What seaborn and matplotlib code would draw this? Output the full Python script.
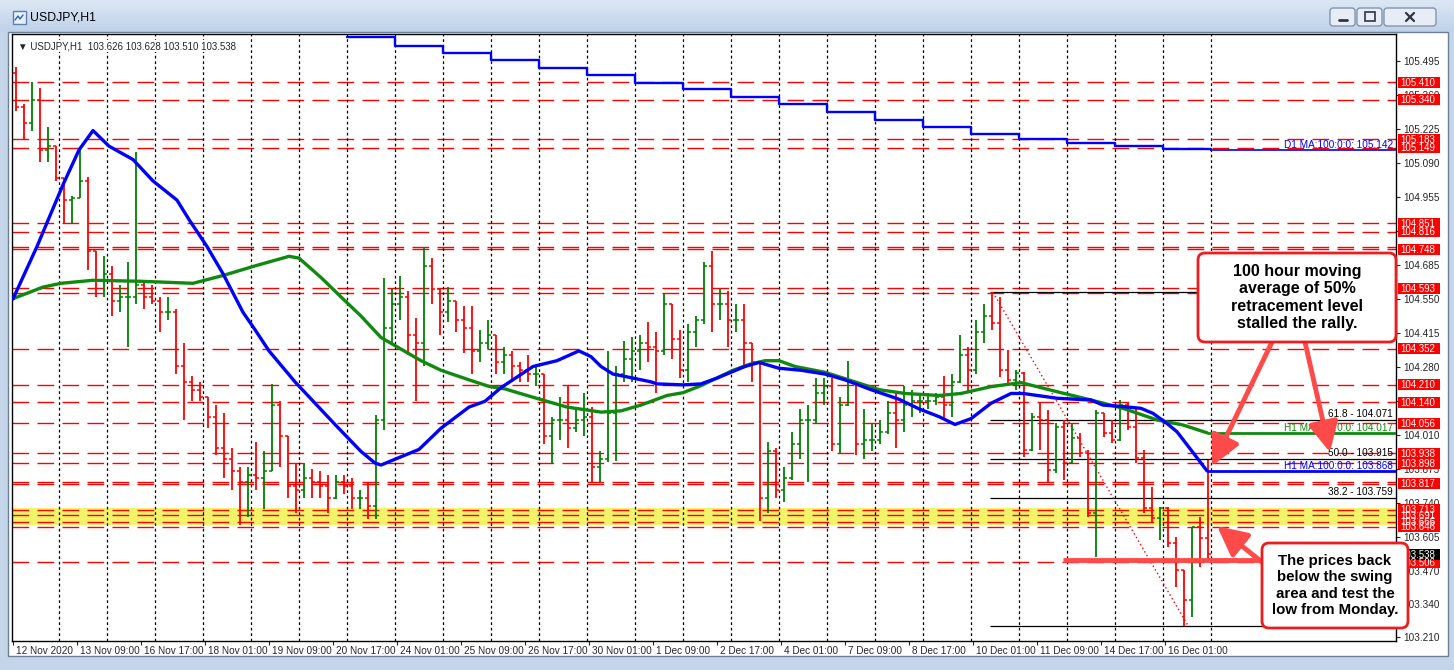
import matplotlib
matplotlib.use("Agg")
import matplotlib.pyplot as plt
import matplotlib.transforms as mtransforms
from matplotlib.colors import LinearSegmentedColormap
from matplotlib.patches import FancyBboxPatch, Rectangle
import numpy as np
import pandas as pd
import seaborn as sns

sns.set_style("white")
plt.rcParams['font.family'] = ['Liberation Sans', 'DejaVu Sans']

# ---- price data: 4-hour bars (open = previous close) ----
first_open = 105.448
bar_high = [105.471, 105.325, 105.409, 105.386, 105.233, 105.156, 105.030, 104.957, 105.141, 105.034,
            104.742, 104.719, 104.681, 104.604, 104.696, 105.133, 104.620, 104.604, 104.558, 104.558,
            104.512, 104.374, 104.244, 104.221, 104.160, 104.129, 104.098, 103.960, 103.884, 103.884,
            103.983, 103.945, 104.213, 104.144, 104.006, 103.899, 103.899, 103.876, 103.868, 103.853,
            103.853, 103.853, 103.838, 103.792, 103.822, 104.091, 104.635, 104.589, 104.640, 104.581,
            104.474, 104.758, 104.712, 104.589, 104.597, 104.543, 104.520, 104.520, 104.428, 104.466,
            104.405, 104.359, 104.344, 104.298, 104.328, 104.282, 104.252, 104.083, 104.160, 104.206,
            104.114, 104.175, 104.121, 103.945, 104.344, 104.282, 104.382, 104.397, 104.405, 104.459,
            104.420, 104.574, 104.528, 104.428, 104.451, 104.482, 104.696, 104.742, 104.589, 104.581,
            104.528, 104.528, 104.374, 104.298, 103.983, 103.960, 103.884, 104.022, 104.114, 104.129,
            104.236, 104.236, 104.236, 104.160, 104.305, 104.221, 104.114, 104.052, 104.068, 104.144,
            104.175, 104.206, 104.190, 104.175, 104.175, 104.175, 104.244, 104.252, 104.405, 104.359,
            104.466, 104.528, 104.576, 104.559, 104.347, 104.268, 104.261, 104.096, 104.142, 104.109,
            104.056, 104.070, 104.056, 104.017, 103.951, 104.109, 104.096, 104.070, 104.149, 104.136,
            104.123, 103.951, 103.805, 103.726, 103.725, 103.607, 103.475, 103.647, 103.686, 103.911]
bar_low = [105.294, 105.179, 105.218, 105.095, 105.095, 105.018, 104.850, 104.850, 104.950, 104.666,
           104.558, 104.558, 104.482, 104.497, 104.359, 104.528, 104.512, 104.528, 104.420, 104.466,
           104.252, 104.068, 104.144, 104.144, 104.037, 103.930, 103.838, 103.792, 103.654, 103.684,
           103.792, 103.715, 103.868, 103.884, 103.761, 103.700, 103.761, 103.761, 103.761, 103.700,
           103.755, 103.776, 103.715, 103.715, 103.677, 103.677, 104.029, 104.374, 104.466, 104.328,
           104.144, 104.282, 104.528, 104.405, 104.459, 104.420, 104.336, 104.252, 104.298, 104.351,
           104.252, 104.252, 104.221, 104.221, 104.221, 104.206, 103.976, 103.899, 103.991, 103.960,
           104.022, 104.006, 103.822, 103.822, 103.905, 103.907, 104.221, 104.221, 104.267, 104.298,
           104.175, 104.328, 104.313, 104.236, 104.221, 104.359, 104.451, 104.420, 104.466, 104.359,
           104.420, 104.282, 104.221, 103.669, 103.700, 103.761, 103.746, 103.830, 103.914, 103.822,
           104.052, 104.129, 103.945, 103.937, 104.125, 103.930, 103.914, 103.945, 103.976, 104.015,
           103.960, 104.022, 104.083, 104.098, 104.114, 104.129, 104.068, 104.083, 104.215, 104.175,
           104.252, 104.374, 104.427, 104.242, 104.215, 104.189, 103.924, 103.945, 103.951, 103.818,
           103.858, 103.832, 103.898, 103.924, 103.686, 103.528, 104.004, 103.977, 103.985, 104.030,
           103.898, 103.699, 103.666, 103.594, 103.567, 103.409, 103.254, 103.290, 103.488, 103.510]
bar_close = [105.310, 105.248, 105.340, 105.141, 105.156, 105.030, 104.942, 104.950, 105.018, 104.742,
             104.620, 104.650, 104.543, 104.558, 104.558, 104.604, 104.558, 104.543, 104.497, 104.497,
             104.282, 104.221, 104.190, 104.160, 104.083, 103.960, 103.914, 103.868, 103.822, 103.853,
             103.838, 103.868, 104.129, 104.006, 103.807, 103.792, 103.838, 103.822, 103.807, 103.761,
             103.822, 103.807, 103.761, 103.761, 103.730, 104.068, 104.436, 104.528, 104.558, 104.405,
             104.374, 104.681, 104.589, 104.497, 104.543, 104.466, 104.436, 104.344, 104.374, 104.405,
             104.298, 104.328, 104.282, 104.267, 104.252, 104.252, 104.006, 104.068, 104.068, 104.037,
             104.068, 104.083, 103.884, 103.914, 104.098, 104.252, 104.313, 104.344, 104.374, 104.359,
             104.344, 104.528, 104.390, 104.267, 104.420, 104.466, 104.681, 104.528, 104.528, 104.466,
             104.466, 104.374, 104.298, 103.761, 103.945, 103.792, 103.838, 103.976, 104.068, 104.068,
             104.175, 104.206, 103.976, 104.129, 104.221, 103.976, 103.991, 103.991, 104.022, 104.098,
             104.068, 104.129, 104.144, 104.144, 104.144, 104.160, 104.129, 104.221, 104.328, 104.267,
             104.420, 104.482, 104.453, 104.268, 104.228, 104.255, 103.951, 104.083, 104.070, 103.870,
             104.040, 103.900, 104.000, 103.937, 103.700, 104.096, 104.020, 103.990, 104.130, 104.040,
             103.920, 103.720, 103.680, 103.720, 103.580, 103.475, 103.356, 103.647, 103.600, 103.538]
hours_per_bar = 4

# moving averages (x = hourly bar number from 12 Nov 01:00)
ma100_x = [0, 12, 25, 33, 40, 48, 60, 70, 82, 88, 97, 105, 115, 121, 128, 141, 161, 174, 181, 184,
           191, 203, 214, 228, 236, 244, 260, 272, 283, 289, 294, 300, 310, 319, 322, 335, 344, 352,
           366, 373, 383, 394, 406, 416, 429, 443, 453, 463, 471, 479, 489, 499, 505, 522, 539, 545,
           555, 564, 570, 577, 582, 589, 597]
ma100_y = [104.550, 104.758, 105.003, 105.141, 105.218, 105.156, 105.103, 105.018, 104.942, 104.865,
           104.758, 104.650, 104.497, 104.428, 104.344, 104.221, 104.052, 103.945, 103.899, 103.891,
           103.914, 103.953, 104.037, 104.121, 104.144, 104.198, 104.282, 104.305, 104.344, 104.321,
           104.282, 104.252, 104.236, 104.221, 104.213, 104.209, 104.213, 104.236, 104.282, 104.298,
           104.275, 104.267, 104.252, 104.229, 104.190, 104.152, 104.114, 104.083, 104.052, 104.075,
           104.136, 104.175, 104.175, 104.156, 104.149, 104.129, 104.123, 104.116, 104.096, 104.056,
           104.023, 103.951, 103.868]
ma200_x = [0, 15, 24, 40, 64, 90, 105, 121, 138, 143, 154, 164, 174, 184, 194, 204, 214, 228, 238,
           246, 260, 277, 294, 304, 314, 327, 335, 344, 360, 368, 376, 383, 391, 406, 421, 433, 446,
           463, 474, 489, 504, 522, 539, 555, 572, 585, 597]
ma200_y = [104.551, 104.597, 104.612, 104.624, 104.620, 104.612, 104.643, 104.681, 104.719, 104.712,
           104.635, 104.558, 104.482, 104.397, 104.351, 104.305, 104.267, 104.229, 104.203, 104.193,
           104.160, 104.121, 104.101, 104.106, 104.129, 104.167, 104.178, 104.206, 104.267, 104.290,
           104.305, 104.305, 104.282, 104.259, 104.221, 104.190, 104.175, 104.167, 104.175, 104.202,
           104.218, 104.182, 104.149, 104.116, 104.070, 104.050, 104.019]
d1_x = [167, 191, 215, 239, 263, 287, 311, 335, 359, 383, 407, 431, 455, 479, 503, 527, 551, 575, 599]
d1_y = [105.589, 105.555, 105.527, 105.498, 105.468, 105.440, 105.406, 105.383, 105.351, 105.322,
        105.290, 105.261, 105.233, 105.205, 105.184, 105.170, 105.155, 105.143, 105.142]

ma100_last, ma200_last, d1_last = 103.868, 104.017, 105.142

# horizontal levels
red_levels = [105.410, 105.340, 105.183, 105.149, 104.851, 104.816, 104.755, 104.748, 104.593, 104.575,
              104.352, 104.210, 104.140, 104.056, 103.938, 103.898, 103.825, 103.817, 103.713, 103.691,
              103.666, 103.646, 103.506]
level_tags = [105.410, 105.340, 105.183, 105.149, 104.851, 104.816, 104.748, 104.593, 104.352, 104.210,
              104.140, 104.056, 103.938, 103.898, 103.817, 103.713, 103.646, 103.691, 103.666, 103.506]
swing_band = (103.655, 103.722)
fib_start = 488.5
fib_levels = [104.576, 104.071, 103.915, 103.759, 103.254]
fib_tags = {'61.8': 104.071, '50.0': 103.915, '38.2': 103.759}
fib_trend = ([490, 587.5], [104.576, 103.254])
monday_low = 103.514
last_price = 103.538

y_ticks = [105.495, 105.360, 105.225, 105.090, 104.955, 104.820, 104.685, 104.550, 104.415, 104.280,
           104.145, 104.010, 103.875, 103.740, 103.605, 103.470, 103.340, 103.210]
hidden_ticks = [104.820, 104.145]   # fully covered by price tags in the terminal
x_tick_labels = ["12 Nov 2020", "13 Nov 09:00", "16 Nov 17:00", "18 Nov 01:00", "19 Nov 09:00",
                 "20 Nov 17:00", "24 Nov 01:00", "25 Nov 09:00", "26 Nov 17:00", "30 Nov 01:00",
                 "1 Dec 09:00", "2 Dec 17:00", "4 Dec 01:00", "7 Dec 09:00", "8 Dec 17:00",
                 "10 Dec 01:00", "11 Dec 09:00", "14 Dec 17:00", "16 Dec 01:00"]
label_step = 32
day_start, day_step = 23, 24

note_top = "100 hour moving\naverage of 50%\nretracement level\nstalled the rally."
note_bottom = "The prices back\nbelow the swing\narea and test the\nlow from Monday."

# ---- figure / window chrome ----
W, H = 1454, 670
fig = plt.figure(figsize=(W / 100, H / 100), dpi=100)
fig.patch.set_facecolor('#c4d5ea')

bg = fig.add_axes([0, 0, 1, 1], zorder=0)
bg.axis('off')
title_cmap = LinearSegmentedColormap.from_list('title', ['#dce7f4', '#bfd2ea'])
bg.imshow(np.linspace(0, 1, 40)[:, None], extent=(0, W, 32, 0), cmap=title_cmap, aspect='auto')
bg.add_patch(Rectangle((8, 32), 1440, 624, facecolor='white', edgecolor='#6d7f94', lw=1))
bg.add_patch(Rectangle((13, 11), 13, 13, facecolor='#e8f0fa', edgecolor='#5a7fb0', lw=1))
bg.plot([15, 18, 20, 23], [20, 16, 19, 15], color='#2d62b5', lw=1)
bg.text(30, 18, "USDJPY,H1", fontsize=8.8, va='center', ha='left', color='black')
for bx, sym in [(1330, 'min'), (1357, 'max'), (1384, 'close')]:
    bwid = 52 if sym == 'close' else 25
    bg.add_patch(FancyBboxPatch((bx, 8), bwid, 18, boxstyle='round,pad=0,rounding_size=3',
                                facecolor='#e6edf6', edgecolor='#7a8ca3', lw=0.9))
    cx = bx + bwid / 2
    if sym == 'min':
        bg.plot([cx - 4, cx + 4], [20, 20], color='#334', lw=2)
    elif sym == 'max':
        bg.add_patch(Rectangle((cx - 5, 12), 10, 9, fill=False, edgecolor='#334', lw=1.2))
    else:
        bg.plot([cx - 4, cx + 4], [13, 21], color='#334', lw=1.6)
        bg.plot([cx - 4, cx + 4], [21, 13], color='#334', lw=1.6)
bg.set_xlim(0, W)
bg.set_ylim(H, 0)

# ---- main chart ----
ax = fig.add_axes([12 / W, 1 - 641 / H, 1384 / W, 607 / H], zorder=1)
ax.set_xlim(-0.5, 691.5)
ax.set_ylim(103.193, 105.601)
ax.set_facecolor('white')
for sp in ax.spines.values():
    sp.set_color('black')
    sp.set_linewidth(1)

ax.axhspan(*swing_band, color='#f3f36a', lw=0, zorder=0.3)
for lv in red_levels:
    ax.axhline(lv, color='red', lw=1, dashes=(12, 6), zorder=0.5)
for g in range(day_start, len(bar_close) * hours_per_bar, day_step):
    ax.axvline(g, color='black', lw=0.9, dashes=(2.2, 2.2), zorder=0.6)
ax.hlines(fib_levels, fib_start, 691.5, color='black', lw=0.9, zorder=0.7)
ax.plot(*fib_trend, color='red', lw=1, ls=(0, (1, 2)), zorder=0.8)

bars = pd.DataFrame({'high': bar_high, 'low': bar_low, 'close': bar_close})
bars['open'] = [first_open] + bar_close[:-1]
bars['x'] = np.arange(len(bars)) * hours_per_bar + 1.5
bars['color'] = np.where(bars['close'] >= bars['open'], '#008000', '#ff0000')
ax.vlines(bars['x'], bars['low'], bars['high'], colors=bars['color'], lw=1.3, zorder=2)
ax.hlines(bars['open'], bars['x'] - 1.5, bars['x'], colors=bars['color'], lw=1.1, zorder=2)
ax.hlines(bars['close'], bars['x'], bars['x'] + 1.5, colors=bars['color'], lw=1.1, zorder=2)

ma100 = pd.DataFrame({'bar': ma100_x, 'price': ma100_y})
ma200 = pd.DataFrame({'bar': ma200_x, 'price': ma200_y})
d1 = pd.DataFrame({'bar': d1_x, 'price': d1_y})
sns.lineplot(data=ma200, x='bar', y='price', color='#0f8a0f', lw=2.4, sort=False, estimator=None,
             ax=ax, zorder=3)
sns.lineplot(data=ma100, x='bar', y='price', color='#0000ff', lw=2.4, sort=False, estimator=None,
             ax=ax, zorder=3.2)
sns.lineplot(data=d1, x='bar', y='price', color='#0000ff', lw=1.7, sort=False, estimator=None,
             drawstyle='steps-post', ax=ax, zorder=3)
ax.hlines(ma100_last, ma100_x[-1], 691.5, color='#0000ff', lw=2, zorder=3)
ax.hlines(ma200_last, ma200_x[-1], 691.5, color='#0f8a0f', lw=2, zorder=3)
ax.hlines(d1_last, d1_x[-1], 691.5, color='#0000ff', lw=1.2, zorder=3)
ax.set_xlabel('')
ax.set_ylabel('')

small = 7.2
ax.text(690, d1_last, "D1 MA:100:0:0: %.3f" % d1_last, color='#0000ff', fontsize=small,
        ha='right', va='bottom', zorder=4)
ax.text(690, ma200_last, "H1 MA:200:0:0: %.3f" % ma200_last, color='#0f8a0f', fontsize=small,
        ha='right', va='bottom', zorder=4)
ax.text(690, ma100_last, "H1 MA:100:0:0: %.3f" % ma100_last, color='#0000ff', fontsize=small,
        ha='right', va='bottom', zorder=4)
for name, lv in fib_tags.items():
    ax.text(690, lv + 0.004, "%s - %.3f" % (name, lv), color='black', fontsize=small,
            ha='right', va='bottom', zorder=4)

# axes ticks
ax.yaxis.tick_right()
ax.set_yticks(y_ticks)
ax.set_yticklabels(["" if v in hidden_ticks else "%.3f" % v for v in y_ticks], fontsize=small)
ax.tick_params(axis='y', direction='out', length=3, width=0.8, pad=2, right=True, left=False)
ax.set_xticks(np.arange(len(x_tick_labels)) * label_step)
ax.set_xticklabels(x_tick_labels, fontsize=small, ha='left')
ax.tick_params(axis='x', direction='out', length=3, width=0.8, pad=0.5, bottom=True)
shift = mtransforms.ScaledTranslation(3 / 100, 0, fig.dpi_scale_trans)
for lbl in ax.get_xticklabels():
    lbl.set_transform(lbl.get_transform() + shift)

# price tags on the right axis: fixed-size boxes, 42 x 11 px
tag_tr = mtransforms.blended_transform_factory(ax.transAxes, ax.transData)
tag_w, tag_h = 42 / 1384, 11 / 252.1
for lv, fc in [(v, '#ff0000') for v in level_tags] + [(last_price, 'black')]:
    ax.add_patch(Rectangle((1 + 2 / 1384, lv - tag_h / 2), tag_w, tag_h, transform=tag_tr,
                           facecolor=fc, edgecolor='none', clip_on=False, zorder=6))
    ax.text(1 + 4 / 1384, lv - 0.002, "%.3f" % lv, transform=tag_tr, color='white', fontsize=7,
            ha='left', va='center', clip_on=False, zorder=6.1)

ax.text(0.004, 0.988, "\u25bc USDJPY,H1  103.626 103.628 103.510 103.538", transform=ax.transAxes,
        fontsize=7, ha='left', va='top', zorder=6,
        bbox=dict(boxstyle='square,pad=0.1', fc='white', ec='none'))

# analyst marks
arrow_red = '#ff4a4a'
ax.hlines(monday_low, 525, 624.5, color=arrow_red, lw=3.5, zorder=4, clip_on=False)
arrow = dict(arrowstyle='-|>,head_length=0.9,head_width=0.45', color=arrow_red, lw=3.5,
             mutation_scale=20, shrinkA=0, shrinkB=0)
ax.annotate('', xy=(599.5, 103.887), xytext=(629.5, 104.379), arrowprops=arrow,
            annotation_clip=False, zorder=5)
ax.annotate('', xy=(658.5, 103.942), xytext=(646, 104.379), arrowprops=arrow,
            annotation_clip=False, zorder=5)
ax.annotate('', xy=(602, 103.649), xytext=(624.5, 103.506), arrowprops=arrow,
            annotation_clip=False, zorder=5)

# ---- callout boxes (pixel space overlay) ----
ov = fig.add_axes([0, 0, 1, 1], zorder=2)
ov.axis('off')
ov.patch.set_alpha(0)
ov.set_xlim(0, W)
ov.set_ylim(H, 0)
for (bx, by, bw, bh), txt, fs in [((1198, 253, 198, 89), note_top, 11.5),
                                  ((1262, 543, 146, 85), note_bottom, 10.8)]:
    ov.add_patch(FancyBboxPatch((bx, by), bw, bh, boxstyle='round,pad=0,rounding_size=7',
                                facecolor='white', edgecolor='#ee1c1c', lw=2))
    ov.text(bx + bw / 2, by + bh / 2, txt, fontsize=fs, fontweight='bold', ha='center',
            va='center', linespacing=1.22, color='black')

fig.savefig('out.png', dpi=100, facecolor=fig.get_facecolor())
